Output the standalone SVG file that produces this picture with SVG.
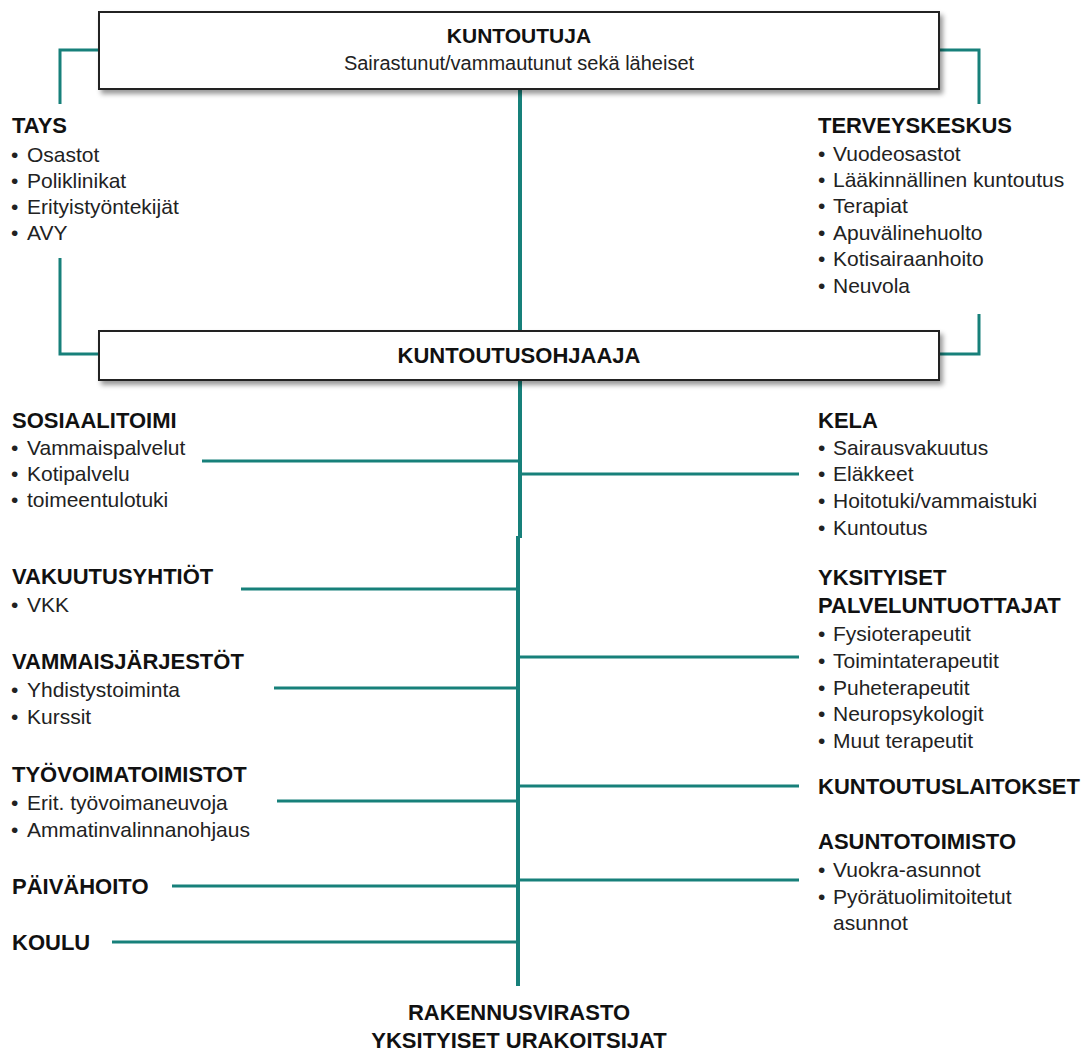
<svg xmlns="http://www.w3.org/2000/svg" width="1090" height="1055" viewBox="0 0 1090 1055">
<style>
.h{font-family:"Liberation Sans",Arial,sans-serif;font-size:22px;font-weight:bold;fill:#111}
.t{font-family:"Liberation Sans",Arial,sans-serif;font-size:21px;fill:#222}
.s{font-family:"Liberation Sans",Arial,sans-serif;font-size:20px;fill:#222}
.c{text-anchor:middle}
.ln{stroke:#17807a;stroke-width:3;fill:none}
.tr{stroke:#17807a;stroke-width:4;fill:none}
.box{fill:#fff;stroke:#222;stroke-width:2;filter:url(#sh)}
</style>
<defs>
<filter id="sh" x="-5%" y="-20%" width="110%" height="150%">
<feDropShadow dx="3" dy="4" stdDeviation="2.5" flood-color="#000" flood-opacity="0.4"/>
</filter>
</defs>
<rect width="1090" height="1055" fill="#fff"/>
<g id="connectors">
<path class="tr" d="M520,90 V331 M520,381 V538 M518,536 V986"/>
<path class="ln" d="M99,50 H60 V104"/>
<path class="ln" d="M60,258 V354 H99"/>
<path class="ln" d="M939,50 H979 V104"/>
<path class="ln" d="M979,314 V354 H939"/>
<path class="ln" d="M202,461 H520"/>
<path class="ln" d="M520,474 H799"/>
<path class="ln" d="M241,589 H518"/>
<path class="ln" d="M518,657 H799"/>
<path class="ln" d="M274,688 H518"/>
<path class="ln" d="M518,786 H799"/>
<path class="ln" d="M277,801 H518"/>
<path class="ln" d="M518,880 H799"/>
<path class="ln" d="M172,886 H518"/>
<path class="ln" d="M112,942 H518"/>
</g>
<g id="kuntoutuja">
<rect class="box" x="99" y="12" width="840" height="77"/>
<text class="h c" x="519" y="43" style="font-size:21px">KUNTOUTUJA</text>
<text class="s c" x="519" y="70">Sairastunut/vammautunut sekä läheiset</text>
</g>
<g id="kuntoutusohjaaja">
<rect class="box" x="99" y="331" width="840" height="49"/>
<text class="h c" x="519" y="363">KUNTOUTUSOHJAAJA</text>
</g>
<g id="tays">
<text class="h" x="12" y="133">TAYS</text>
<text class="t" y="162"><tspan x="11">•</tspan><tspan x="27">Osastot</tspan></text>
<text class="t" y="188"><tspan x="11">•</tspan><tspan x="27">Poliklinikat</tspan></text>
<text class="t" y="214"><tspan x="11">•</tspan><tspan x="27">Erityistyöntekijät</tspan></text>
<text class="t" y="240"><tspan x="11">•</tspan><tspan x="27">AVY</tspan></text>
</g>
<g id="terveyskeskus">
<text class="h" x="818" y="133">TERVEYSKESKUS</text>
<text class="t" y="161"><tspan x="818">•</tspan><tspan x="833">Vuodeosastot</tspan></text>
<text class="t" y="187"><tspan x="818">•</tspan><tspan x="833">Lääkinnällinen kuntoutus</tspan></text>
<text class="t" y="213"><tspan x="818">•</tspan><tspan x="833">Terapiat</tspan></text>
<text class="t" y="240"><tspan x="818">•</tspan><tspan x="833">Apuvälinehuolto</tspan></text>
<text class="t" y="266"><tspan x="818">•</tspan><tspan x="833">Kotisairaanhoito</tspan></text>
<text class="t" y="293"><tspan x="818">•</tspan><tspan x="833">Neuvola</tspan></text>
</g>
<g id="sosiaalitoimi">
<text class="h" x="12" y="428">SOSIAALITOIMI</text>
<text class="t" y="455"><tspan x="11">•</tspan><tspan x="27">Vammaispalvelut</tspan></text>
<text class="t" y="481"><tspan x="11">•</tspan><tspan x="27">Kotipalvelu</tspan></text>
<text class="t" y="507"><tspan x="11">•</tspan><tspan x="27">toimeentulotuki</tspan></text>
</g>
<g id="kela">
<text class="h" x="818" y="428">KELA</text>
<text class="t" y="455"><tspan x="818">•</tspan><tspan x="833">Sairausvakuutus</tspan></text>
<text class="t" y="481"><tspan x="818">•</tspan><tspan x="833">Eläkkeet</tspan></text>
<text class="t" y="508"><tspan x="818">•</tspan><tspan x="833">Hoitotuki/vammaistuki</tspan></text>
<text class="t" y="535"><tspan x="818">•</tspan><tspan x="833">Kuntoutus</tspan></text>
</g>
<g id="vakuutusyhtiot">
<text class="h" x="12" y="584">VAKUUTUSYHTIÖT</text>
<text class="t" y="612"><tspan x="11">•</tspan><tspan x="27">VKK</tspan></text>
</g>
<g id="yksityiset-palveluntuottajat">
<text class="h" x="818" y="585">YKSITYISET</text>
<text class="h" x="818" y="613">PALVELUNTUOTTAJAT</text>
<text class="t" y="641"><tspan x="818">•</tspan><tspan x="833">Fysioterapeutit</tspan></text>
<text class="t" y="668"><tspan x="818">•</tspan><tspan x="833">Toimintaterapeutit</tspan></text>
<text class="t" y="695"><tspan x="818">•</tspan><tspan x="833">Puheterapeutit</tspan></text>
<text class="t" y="721"><tspan x="818">•</tspan><tspan x="833">Neuropsykologit</tspan></text>
<text class="t" y="748"><tspan x="818">•</tspan><tspan x="833">Muut terapeutit</tspan></text>
</g>
<g id="vammaisjarjestot">
<text class="h" x="12" y="669">VAMMAISJÄRJESTÖT</text>
<text class="t" y="697"><tspan x="11">•</tspan><tspan x="27">Yhdistystoiminta</tspan></text>
<text class="t" y="724"><tspan x="11">•</tspan><tspan x="27">Kurssit</tspan></text>
</g>
<g id="tyovoimatoimistot">
<text class="h" x="12" y="782">TYÖVOIMATOIMISTOT</text>
<text class="t" y="810"><tspan x="11">•</tspan><tspan x="27">Erit. työvoimaneuvoja</tspan></text>
<text class="t" y="837"><tspan x="11">•</tspan><tspan x="27">Ammatinvalinnanohjaus</tspan></text>
</g>
<g id="kuntoutuslaitokset">
<text class="h" x="818" y="794">KUNTOUTUSLAITOKSET</text>
</g>
<g id="asuntotoimisto">
<text class="h" x="818" y="849">ASUNTOTOIMISTO</text>
<text class="t" y="877"><tspan x="818">•</tspan><tspan x="833">Vuokra-asunnot</tspan></text>
<text class="t" y="904"><tspan x="818">•</tspan><tspan x="833">Pyörätuolimitoitetut</tspan></text>
<text class="t" x="833" y="930">asunnot</text>
</g>
<g id="paivahoito">
<text class="h" x="12" y="894">PÄIVÄHOITO</text>
</g>
<g id="koulu">
<text class="h" x="12" y="950">KOULU</text>
</g>
<g id="rakennusvirasto">
<text class="h c" x="519" y="1020">RAKENNUSVIRASTO</text>
<text class="h c" x="519" y="1048">YKSITYISET URAKOITSIJAT</text>
</g>
</svg>
